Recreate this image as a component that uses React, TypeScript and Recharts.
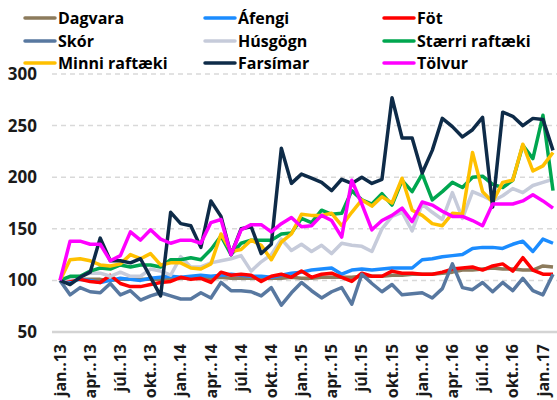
import React from "react";
import { LineChart, Line, XAxis, YAxis, CartesianGrid, Legend } from "recharts";

const FONT = "'Open Sans', 'DejaVu Sans', sans-serif";

const monthNames = ["jan.", "feb.", "mar.", "apr.", "maí.", "jún.", "júl.", "ágú.", "sep.", "okt.", "nóv.", "des."];
const years = ["13", "14", "15", "16", "17"];
const monthLabels: string[] = [];
years.forEach((y) => monthNames.forEach((m) => monthLabels.push(`${m}.${y}`)));
const categories = monthLabels.slice(0, 50);

const dagvara = [100,100,101,101,101,100,101,101,101,101,101,102,102,102,102,102,103,102,102,102,102,102,102,103,102,102,103,103,103,103,104,104,104,105,105,106,106,106,107,108,110,110,111,112,111,111,110,110,114,113];
const afengi = [100,100,101,100,98,100,102,101,100,102,103,104,103,104,105,104,105,106,105,104,104,103,105,107,108,110,111,112,106,110,111,110,111,112,112,112,120,121,123,124,125,131,132,132,131,135,138,128,140,136];
const fot = [100,101,101,99,98,105,97,94,94,96,98,99,103,101,102,98,108,105,106,105,99,104,106,103,109,103,106,107,103,99,107,104,104,109,107,107,106,106,108,111,112,113,110,114,116,109,122,110,106,106];
const skor = [100,86,93,89,88,97,86,90,81,85,88,85,82,82,88,83,98,90,90,89,85,93,76,88,98,90,83,89,93,77,106,97,89,96,86,87,88,83,92,116,93,91,98,89,98,90,102,90,86,106];
const husgogn = [100,102,104,107,107,104,108,104,104,111,109,105,123,113,113,117,119,121,124,109,118,125,140,129,135,128,134,126,136,134,133,128,150,162,166,148,174,166,159,185,160,186,182,177,182,189,185,192,195,198];
const staerri = [100,104,104,109,112,111,115,113,115,115,113,120,120,122,120,130,143,125,136,139,139,139,145,146,160,156,168,164,165,187,178,174,184,173,197,186,203,178,186,195,190,200,201,193,190,197,231,218,260,187];
const minni = [100,120,121,119,115,114,116,125,121,126,115,117,117,112,111,116,145,128,130,139,134,120,137,145,164,163,163,165,153,166,178,172,181,175,199,168,163,155,153,165,164,224,186,176,195,197,232,206,211,224];
const farsimar = [100,96,103,108,141,119,119,117,121,103,85,166,155,153,132,177,162,125,150,152,126,135,228,194,203,199,195,187,198,194,200,194,198,277,238,238,204,226,257,249,239,246,258,171,263,259,250,257,256,226];
const tolvur = [100,138,138,135,135,119,124,147,139,149,140,136,139,139,136,156,159,125,149,154,154,147,155,161,152,153,163,158,142,197,174,149,158,163,170,157,176,173,167,162,162,158,153,174,174,174,177,183,177,170];

const yTicks = [50, 100, 150, 200, 250, 300];

const SERIES = [
  { key: "dagvara", name: "Dagvara", color: "#8c7b5c", values: dagvara },
  { key: "afengi", name: "Áfengi", color: "#1b8cff", values: afengi },
  { key: "fot", name: "Föt", color: "#ff0000", values: fot },
  { key: "skor", name: "Skór", color: "#5878a0", values: skor },
  { key: "husgogn", name: "Húsgögn", color: "#c6cbda", values: husgogn },
  { key: "staerri", name: "Stærri raftæki", color: "#00a64f", values: staerri },
  { key: "minni", name: "Minni raftæki", color: "#ffc000", values: minni },
  { key: "farsimar", name: "Farsímar", color: "#0e2b48", values: farsimar },
  { key: "tolvur", name: "Tölvur", color: "#ff00ff", values: tolvur },
];

const data = categories.map((m, i) => {
  const row: Record<string, string | number> = { m };
  SERIES.forEach((s) => {
    row[s.key] = s.values[i];
  });
  return row;
});

const XTick = (props: any) => {
  const { x, y, payload } = props;
  return (
    <text
      x={x}
      y={y}
      transform={`rotate(-90 ${x} ${y})`}
      textAnchor="end"
      dy="0.35em"
      fill="#1a1a1a"
      fontSize={16}
      fontWeight={700}
      fontFamily={FONT}
    >
      {payload.value}
    </text>
  );
};

const renderLegend = () => (
  <div
    style={{
      display: "grid",
      gridTemplateColumns: "180px 179px 175px",
      paddingLeft: 23,
      paddingTop: 7,
      fontFamily: FONT,
      fontWeight: 700,
      fontSize: 16,
      color: "#000",
    }}
  >
    {SERIES.map((s) => (
      <div key={s.key} style={{ display: "flex", alignItems: "center", height: 22.5, whiteSpace: "nowrap" }}>
        <svg width={34} height={6} style={{ display: "block" }}>
          <line x1={2} y1={3} x2={32} y2={3} stroke={s.color} strokeWidth={3.5} strokeLinecap="round" />
        </svg>
        <span style={{ marginLeft: 1, lineHeight: "22.5px" }}>{s.name}</span>
      </div>
    ))}
  </div>
);

export default function App() {
  return (
    <div style={{ position: "absolute", left: 0, top: 0, width: 557, height: 400, background: "#fff" }}>
      <LineChart width={557} height={400} data={data} margin={{ top: 74, right: 0, bottom: 8, left: 0 }}>
        <CartesianGrid vertical={false} stroke="#d9d9d9" strokeDasharray="5 4" strokeWidth={1.5} />
        <XAxis
          dataKey="m"
          interval={2}
          tick={<XTick />}
          tickLine={false}
          tickSize={0}
          tickMargin={12}
          axisLine={{ stroke: "#d4d4d4", strokeWidth: 2.5 }}
          height={60}
          padding={{ left: 8, right: 4 }}
        />
        <YAxis
          domain={[50, 300]}
          ticks={yTicks}
          width={52}
          axisLine={false}
          tickLine={false}
          tickSize={0}
          tickMargin={15}
          tick={{ fill: "#1a1a1a", fontSize: 17, fontWeight: 700, fontFamily: FONT }}
        />
        <Legend
          layout="vertical"
          align="center"
          verticalAlign="middle"
          content={renderLegend}
          wrapperStyle={{ top: 0, left: 0, width: 557, height: 74 }}
        />
        {SERIES.map((s) => (
          <Line
            key={s.key}
            type="linear"
            dataKey={s.key}
            name={s.name}
            stroke={s.color}
            strokeWidth={3.5}
            strokeLinejoin="round"
            dot={false}
            activeDot={false}
            isAnimationActive={false}
          />
        ))}
      </LineChart>
    </div>
  );
}
